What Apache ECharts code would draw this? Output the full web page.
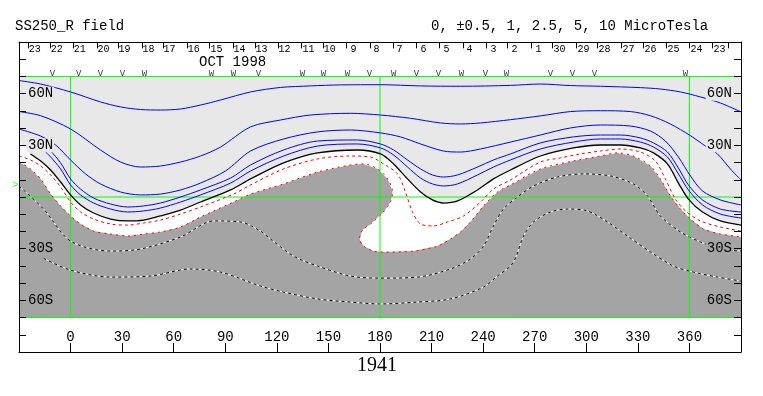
<!DOCTYPE html>
<html><head><meta charset="utf-8">
<script src="https://cdn.jsdelivr.net/npm/echarts@6/dist/echarts.min.js"></script>
<style>html,body{margin:0;padding:0;background:#fff}#c{width:763px;height:396px}</style>
</head><body><div id="c"></div>
<script>
// ---- axis / label data ----
const lonRange = [-30, 390];
const latRange = [-90, 90];
const plotLat = [-70, 70];
const latLabels = {60: '60N', 30: '30N', '-30': '30S', '-60': '60S'};
const dayLabels = ['23','22','21','20','19','18','17','16','15','14','13','12','11','10','9','8','7','6','5','4','3','2','1','30','29','28','27','26','25','24','23'];
const dayLabelLons = [-20.9,-8.1,5.3,19.2,31.4,45.4,57.6,71.6,84.9,98.3,111.1,124.5,138.4,150.7,164.6,178.0,191.4,205.3,218.7,232.1,246.0,258.2,272.2,284.4,298.4,310.6,324.5,337.3,350.7,364.1,377.5];
const dayTickLons = [-25.0,-12.2,1.2,15.1,27.3,41.3,53.5,67.5,80.8,94.2,107.0,120.4,134.3,146.6,160.5,173.9,187.3,201.2,214.6,228.0,241.9,254.1,268.1,280.3,294.3,306.5,320.4,333.2,346.6,360.0,373.4,382.7];
const dayTickLat = [90, 86.3];
const markerLons = [-10.5,4.7,17.4,30.2,43.0,82.0,94.8,109.3,134.9,147.1,161.1,173.9,187.9,201.2,214.0,227.4,241.4,253.6,279.2,292.0,304.8,357.7];
const markerTypes = ['V','V','V','V','W','W','W','V','W','W','W','V','W','V','V','W','V','W','V','V','V','W'];
const markerLat = 71.9;
const earthLat = 6.7;
const greenLons = [0, 180, 360];
const greenLats = [70, 0, -70];

// ---- contour lines [lon, lat] ----
const contourP10 = [[-30,67.6],[-17.4,65.6],[0,61.0],[17.4,55.2],[29.1,52.3],[40.7,50.8],[52.3,50.5],[64.0,51.1],[75.6,53.4],[87.2,56.3],[104.7,61.0],[122.1,63.6],[139.6,64.5],[157.0,65.1],[180.3,65.2],[203.6,64.5],[226.8,64.3],[255.9,64.8],[273.3,65.6],[290.8,64.7],[308.2,64.3],[331.5,63.5],[343.1,62.7],[354.8,61.0],[366.4,58.1],[378.0,54.6],[390,49.4]];
const contourP5 = [[-30,49.6],[-17.4,47.2],[0,39.5],[17.4,27.3],[29.1,20.3],[40.7,17.4],[52.3,18.0],[64.0,20.3],[75.6,23.8],[87.2,29.0],[104.7,40.7],[122.1,44.7],[139.6,47.6],[162.8,48.6],[180.3,47.6],[197.7,45.7],[215.2,43.0],[226.8,42.4],[238.5,43.0],[255.9,44.9],[273.3,47.1],[290.8,49.6],[308.2,50.1],[325.7,49.6],[337.3,47.2],[348.9,42.4],[360.6,35.6],[369.3,29.6],[376.3,25.0],[383.8,16.3],[390,9.9]];
const contourP2_5 = [[-30,39.5],[-17.4,35.4],[-8.7,30.2],[0,21.5],[8.7,13.4],[17.4,7.6],[29.1,2.9],[40.7,1.2],[52.3,1.7],[64.0,4.1],[75.6,8.1],[90.1,15.1],[104.7,26.7],[123.9,33.7],[143.7,37.8],[162.8,38.9],[180.3,37.2],[191.9,34.9],[203.6,30.8],[216.9,26.7],[226.8,26.1],[238.5,27.9],[255.9,31.9],[273.3,36.0],[290.8,40.1],[308.2,41.8],[325.7,41.2],[337.3,38.3],[346.0,32.5],[353.6,23.2],[360.6,12.2],[367.6,3.5],[378.0,-1.7],[390,-4.6]];
const contourP1 = [[-17.4,31.9],[-11.6,26.7],[-5.8,19.8],[0,10.5],[5.8,4.6],[13.4,-0.6],[23.3,-4.1],[33.2,-5.8],[42.5,-5.2],[52.3,-3.5],[64.0,0],[75.6,4.1],[93.1,11.0],[104.7,18.6],[123.9,27.3],[143.7,32.5],[166.9,33.1],[180.3,30.8],[187.9,27.3],[196.0,21.5],[203.6,16.3],[210.5,12.8],[216.9,11.6],[225.1,12.8],[236.7,17.4],[246.0,21.5],[255.9,25.0],[273.3,31.4],[292.5,34.9],[308.2,36.0],[319.9,36.0],[331.5,34.3],[339.1,31.4],[347.2,26.1],[353.6,16.8],[359.4,7.0],[367.6,-1.7],[378.0,-7.0],[390,-8.7]];
const contourP0_5 = [[-16.3,27.9],[-11.6,23.2],[-5.8,16.3],[0,7.0],[5.8,1.2],[13.4,-3.5],[23.3,-7.0],[33.2,-8.7],[42.5,-8.1],[52.3,-6.4],[64.0,-2.9],[75.6,1.2],[93.1,8.1],[104.7,15.1],[123.9,23.8],[143.7,29.6],[166.9,30.8],[180.3,28.5],[187.9,24.4],[196.0,17.4],[203.6,11.0],[210.5,7.6],[216.9,6.4],[225.1,7.6],[236.7,12.8],[246.0,17.4],[255.9,21.5],[273.3,27.9],[292.5,31.9],[308.2,33.7],[319.9,33.7],[331.5,31.9],[339.1,29.0],[347.2,23.2],[353.6,13.4],[359.4,4.1],[367.6,-4.6],[378.0,-9.9],[390,-12.2]];
const contour0 = [[-23.3,25.0],[-17.4,20.9],[-11.6,15.7],[-5.8,8.7],[0,1.2],[5.8,-4.6],[13.4,-9.3],[23.3,-12.8],[33.2,-13.9],[42.5,-13.4],[52.3,-11.0],[64.0,-7.6],[75.6,-2.9],[93.1,4.1],[104.7,10.5],[123.9,19.8],[143.7,25.6],[166.9,27.3],[180.3,25.0],[187.9,19.2],[196.0,10.5],[203.6,2.9],[210.5,-1.7],[216.9,-3.5],[225.1,-2.3],[236.7,4.1],[246.0,10.5],[255.9,15.7],[273.3,23.8],[292.5,28.5],[308.2,30.2],[319.9,30.2],[331.5,28.5],[339.1,25.6],[347.2,19.2],[353.6,8.1],[359.4,-1.2],[367.6,-8.7],[378.0,-13.9],[390,-16.3]];
const neutralLeftExt = [[-30,32.5]];
const contourM0_5 = [[-30,23.8],[-23.3,21.5],[-17.4,18.0],[-11.6,12.8],[-5.8,5.8],[0,-2.9],[5.8,-8.7],[13.4,-12.8],[23.3,-15.7],[33.2,-16.3],[42.5,-15.1],[52.3,-13.4],[64.0,-9.9],[75.6,-5.8],[94.8,1.7],[104.7,7.0],[123.9,16.3],[143.7,22.1],[162.8,23.8],[174.5,23.2],[182.0,19.2],[190.2,13.4],[194.8,2.9],[198.9,-8.7],[203.6,-15.7],[211.1,-16.8],[219.3,-14.5],[228.6,-11.0],[238.5,-2.9],[246.0,4.6],[255.9,9.9],[273.3,20.3],[285.0,22.7],[296.6,25.0],[308.2,26.7],[319.9,27.9],[331.5,26.1],[340.2,20.9],[346.0,10.5],[351.8,-1.2],[357.7,-8.1],[366.4,-13.9],[378.0,-17.4],[390,-19.8]];
const contourM1 = [[-30,20.3],[-23.3,16.3],[-17.4,10.5],[-11.6,1.7],[-5.8,-5.2],[0,-11.0],[5.8,-15.7],[13.4,-19.8],[23.3,-21.5],[33.2,-22.7],[42.5,-21.5],[52.3,-20.3],[64.0,-17.4],[75.6,-11.6],[94.8,-2.9],[104.7,1.7],[123.9,7.6],[143.7,14.5],[162.8,18.6],[170.4,19.2],[178.6,16.3],[184.4,10.5],[187.3,2.9],[186.1,-2.9],[182.0,-8.7],[174.5,-15.7],[169.8,-19.2],[168.1,-24.4],[170.4,-28.5],[176.2,-31.4],[182.0,-32.0],[199.5,-31.4],[213.4,-28.5],[221.0,-24.4],[226.8,-20.3],[232.6,-14.5],[240.2,-5.2],[248.3,2.9],[255.9,7.0],[273.3,16.3],[292.5,20.9],[308.2,23.8],[318.1,25.6],[327.4,23.8],[337.3,18.0],[343.1,10.5],[349.0,0.6],[354.8,-7.0],[360.6,-12.8],[368.2,-18.6],[378.0,-21.5],[390,-23.2]];
const contourM2_5 = [[-30,6.4],[-15.7,-7.0],[0,-25.6],[23.3,-31.4],[40.7,-30.2],[64.0,-23.2],[83.2,-13.9],[98.9,-14.5],[110.5,-19.8],[116.3,-24.4],[129.7,-34.3],[143.7,-40.1],[162.8,-45.9],[180.3,-47.1],[201.8,-46.5],[221.0,-41.8],[232.6,-36.0],[240.2,-28.5],[246.0,-16.8],[251.8,-7.0],[260.0,0],[269.3,6.4],[283.2,11.6],[298.4,13.4],[314.1,12.2],[327.4,7.6],[335.6,0.6],[343.1,-11.0],[354.8,-20.3],[366.4,-26.1],[378.0,-30.2],[390,-31.4]];
const contourM5 = [[-15.7,-35.6],[0,-42.5],[23.3,-46.5],[46.5,-45.9],[69.8,-41.8],[87.2,-43.6],[110.5,-51.7],[123.9,-55.2],[143.7,-59.2],[162.8,-61.0],[180.3,-62.1],[201.8,-61.0],[221.0,-59.2],[240.2,-52.3],[248.3,-45.9],[255.9,-40.1],[259.0,-35.0],[263.5,-22.7],[269.3,-14.5],[279.2,-8.7],[289.1,-7.0],[300.7,-8.1],[312.3,-14.5],[324.0,-22.7],[337.3,-31.9],[350.7,-40.1],[362.3,-43.6],[376.3,-46.5],[390,-48.8]];

// ---- styles ----
const FONT = 'Liberation Mono';
const LIGHT = '#e8e8e8', DARK = '#a4a4a4', GREEN = '#00ff00';

const chart = echarts.init(document.getElementById('c'));

function polygon(points, fill, z) {
  return {type: 'custom', coordinateSystem: 'cartesian2d', z, silent: true, clip: true,
    data: [[lonRange[0], plotLat[0]]],
    renderItem: (params, api) => ({type: 'polygon', shape: {points: points.map(p => api.coord(p))}, style: {fill}})};
}
function line(data, color, width, type, z, smooth) {
  return {type: 'line', data, symbol: 'none', showSymbol: false, silent: true, z,
    smooth: smooth === undefined ? 0.3 : smooth, lineStyle: {color, width, type}};
}

const plotRect = [[lonRange[0], plotLat[1]], [lonRange[1], plotLat[1]], [lonRange[1], plotLat[0]], [lonRange[0], plotLat[0]]];
const bottomClose = [[lonRange[1], plotLat[0]], [lonRange[0], plotLat[0]]];

const series = [
  polygon(plotRect, LIGHT, 1),
  polygon(neutralLeftExt.concat(contour0, bottomClose), '#ffffff', 2),
  polygon(contourM1.concat(bottomClose), DARK, 3),
  line(contourM2_5, '#ffffff', 1, 'solid', 4),
  line(contourM2_5, '#000000', 1, [3, 3], 5),
  line(contourM5, '#ffffff', 1, 'solid', 4),
  line(contourM5, '#000000', 1, [3, 3], 5)
];
greenLons.forEach(l => series.push(line([[l, plotLat[0]], [l, plotLat[1]]], GREEN, 1, 'solid', 6, false)));
greenLats.forEach(l => series.push(line([[lonRange[0], l], [lonRange[1], l]], GREEN, 1, 'solid', 6, false)));
series.push(
  line(contourM1, '#ff0000', 1, [2, 4], 7),
  line(contourM0_5, '#ff0000', 1, [3, 3], 7),
  line(contour0, '#000000', 1.3, 'solid', 8),
  line(contourP0_5, '#0000ff', 1, 'solid', 8),
  line(contourP1, '#0000ff', 1, 'solid', 8),
  line(contourP2_5, '#0000ff', 1, 'solid', 8),
  line(contourP5, '#0000ff', 1, 'solid', 8),
  line(contourP10, '#0000ff', 1, 'solid', 8),
  {type: 'custom', coordinateSystem: 'cartesian2d', z: 30, silent: true, clip: false,
   data: dayTickLons.map(l => [l, dayTickLat[0]]),
   renderItem: (params, api) => {
     const lon = api.value(0);
     const a = api.coord([lon, dayTickLat[0]]), b = api.coord([lon, dayTickLat[1]]);
     const x = Math.round(a[0]) + 0.5;
     return {type: 'line', shape: {x1: x, y1: a[1], x2: x, y2: b[1]}, style: {stroke: '#000', lineWidth: 1}};
   }},
  {type: 'scatter', data: markerLons.map((l, i) => [l, markerLat, markerTypes[i]]), symbolSize: 1, itemStyle: {color: 'rgba(0,0,0,0)'},
   silent: true, z: 9, clip: false,
   label: {show: true, position: 'inside', formatter: p => p.data[2], fontFamily: FONT, fontSize: 9, color: '#000'}},
  {type: 'scatter', data: [[lonRange[0], earthLat]], symbolSize: 1, itemStyle: {color: 'rgba(0,0,0,0)'}, silent: true, z: 9, clip: false,
   label: {show: true, position: 'left', distance: 0, formatter: '>', fontFamily: FONT, fontSize: 10, color: GREEN}}
);

const latFmt = v => {
  const t = latLabels[v];
  if (!t) return '';
  return (v > 0 ? '{n|' : '{s|') + t + '}';
};
const richLat = {
  n: {fontFamily: FONT, fontSize: 14, color: '#000', backgroundColor: LIGHT, padding: [0, 1, 0, 1]},
  s: {fontFamily: FONT, fontSize: 14, color: '#000', backgroundColor: DARK, padding: [0, 1, 0, 1]}
};

chart.setOption({
  animation: false,
  backgroundColor: '#ffffff',
  title: [
    {text: 'SS250_R field', left: 10, top: 14, textStyle: {fontFamily: FONT, fontSize: 14, fontWeight: 'normal', color: '#000'}},
    {text: '0, \u00b10.5, 1, 2.5, 5, 10 MicroTesla', left: 426, top: 14, textStyle: {fontFamily: FONT, fontSize: 14, fontWeight: 'normal', color: '#000'}},
    {text: '1941', left: 352, top: 351, textStyle: {fontFamily: 'Liberation Serif', fontSize: 20, fontWeight: 'normal', color: '#000'}}
  ],
  graphic: [{type: 'text', left: 199, top: 55, z: 100, style: {text: 'OCT 1998', font: '14px "Liberation Mono"', fill: '#000'}}],
  grid: {left: 19, right: 22, top: 42, bottom: 44, containLabel: false},
  xAxis: [
    {type: 'value', min: lonRange[0], max: lonRange[1], interval: 30, position: 'bottom', z: 20,
     axisLine: {show: true, onZero: false, lineStyle: {color: '#000', width: 1}},
     axisTick: {show: true, inside: true, length: 9, lineStyle: {color: '#000'}},
     axisLabel: {show: true, inside: true, margin: 8, fontFamily: FONT, fontSize: 14, color: '#000',
       formatter: v => (v < 0 || v > 360) ? '' : String(v)},
     splitLine: {show: false}},
    {type: 'value', min: lonRange[0], max: lonRange[1], position: 'top', z: 20,
     axisLine: {show: true, onZero: false, lineStyle: {color: '#000', width: 1}},
     axisTick: {show: false},
     axisLabel: {show: true, inside: true, margin: 2, fontFamily: FONT, fontSize: 10, color: '#000',
       customValues: dayLabelLons, formatter: v => dayLabels[dayLabelLons.indexOf(v)] || ''},
     splitLine: {show: false}}
  ],
  yAxis: [
    {type: 'value', min: latRange[0], max: latRange[1], interval: 10, position: 'left', z: 20,
     axisLine: {show: true, onZero: false, lineStyle: {color: '#000', width: 1}},
     axisTick: {show: true, inside: true, length: 7, lineStyle: {color: '#000'}},
     axisLabel: {show: true, inside: true, margin: 8, formatter: latFmt, rich: richLat},
     splitLine: {show: false}},
    {type: 'value', min: latRange[0], max: latRange[1], interval: 10, position: 'right', z: 20,
     axisLine: {show: true, onZero: false, lineStyle: {color: '#000', width: 1}},
     axisTick: {show: true, inside: true, length: 7, lineStyle: {color: '#000'}},
     axisLabel: {show: true, inside: true, margin: 8, formatter: latFmt, rich: richLat},
     splitLine: {show: false}}
  ],
  series
});
</script></body></html>
